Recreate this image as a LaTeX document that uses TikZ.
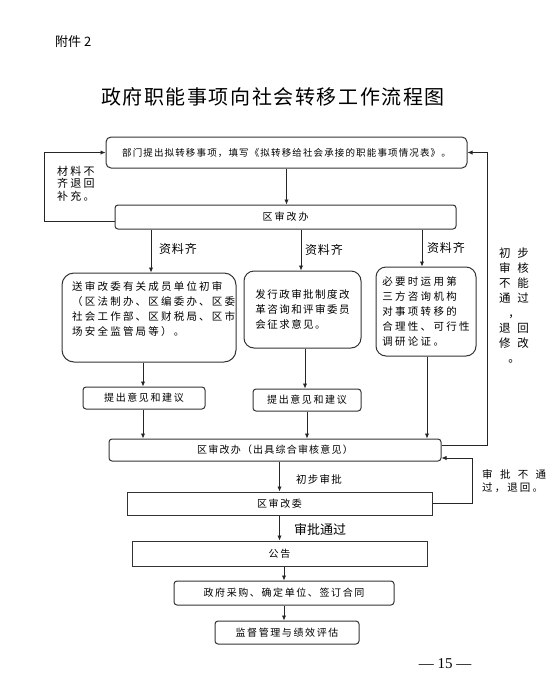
\documentclass[tikz,border=0pt]{standalone}
\usepackage{fontspec}
\setmainfont{Liberation Serif}
\newfontfamily\cjk{Noto Sans CJK SC}
\newfontfamily\cjkA[LetterSpace=16]{Noto Sans CJK SC}
\newfontfamily\cjkB[LetterSpace=12]{Noto Sans CJK SC}
\newfontfamily\cjkL[LetterSpace=21]{Noto Sans CJK SC}
\newfontfamily\cjkM[LetterSpace=14]{Noto Sans CJK SC}
\newfontfamily\cjkR[LetterSpace=22]{Noto Sans CJK SC}
\newfontfamily\cjkT[LetterSpace=8]{Noto Sans CJK SC}
\newfontfamily\cjkW[LetterSpace=70]{Noto Sans CJK SC}
\newfontfamily\cjkN[LetterSpace=20]{Noto Sans CJK SC}
\usetikzlibrary{arrows.meta}
\begin{document}
\begin{tikzpicture}[x=1pt,y=-1pt,
  line/.style={draw=black!85, line width=0.9pt},
  arr/.style={line, -{Latex[length=5pt,width=4.5pt]}},
  rbx/.style={draw=black!80, line width=1pt, rounded corners=3pt, inner sep=0pt, font=\cjkA\fontsize{10}{12}\selectfont},
  sbx/.style={draw=black!80, line width=1pt, inner sep=0pt, font=\cjkA\fontsize{10}{12}\selectfont},
  lbl/.style={inner sep=0pt}]
\useasboundingbox (0,0) rectangle (557,691);

% header and title
\node[lbl, anchor=west, font=\cjk\fontsize{13}{15}\selectfont] (att) at (55,42) {附件 2};
\node[lbl, font=\cjkT\fontsize{20}{24}\selectfont] (title) at (273,97) {政府职能事项向社会转移工作流程图};

% boxes
\node[rbx, rounded corners=5pt, minimum width=361pt, minimum height=31pt, font=\cjkB\fontsize{9.5}{12}\selectfont] (b1) at (286.5,152.5) {部门提出拟转移事项，填写《拟转移给社会承接的职能事项情况表》。};
\node[rbx, minimum width=341pt, minimum height=24pt, font=\cjkN\fontsize{10}{12}\selectfont] (b2) at (285.5,217) {区审改办};

\node[rbx, rounded corners=12pt, minimum width=174pt, minimum height=89pt] (lb) at (149,317.5) {};
\node[lbl, anchor=north west, align=left, font=\cjkL\fontsize{10.5}{15}\selectfont] (lbt) at (72,281) {送审改委有关成员单位初审\\（区法制办、区编委办、区委\\社会工作部、区财税局、区市\\场安全监管局等）。};
\node[rbx, rounded corners=10pt, minimum width=117pt, minimum height=77pt, align=left, font=\cjkM\fontsize{10.5}{15}\selectfont] (mb) at (302.5,309.5) {发行政审批制度改\\革咨询和评审委员\\会征求意见。};
\node[rbx, rounded corners=10pt, minimum width=100pt, minimum height=89pt, align=left, font=\cjkR\fontsize{10.5}{15}\selectfont] (rb) at (426,311.5) {必要时运用第\\三方咨询机构\\对事项转移的\\合理性、可行性\\调研论证。};

\node[rbx, minimum width=122pt, minimum height=22pt] (sA) at (144,398) {提出意见和建议};
\node[rbx, minimum width=108pt, minimum height=22pt] (sB) at (307,400) {提出意见和建议};

\node[rbx, minimum width=332pt, minimum height=22pt, font=\cjkB\fontsize{10}{12}\selectfont] (b3) at (275,450) {区审改办（出具综合审核意见）};
\node[sbx, minimum width=305pt, minimum height=23pt] (b4) at (279.5,503.5) {区审改委};
\node[sbx, minimum width=295pt, minimum height=25pt] (b5) at (279.5,553.5) {公告};
\node[rbx, minimum width=220pt, minimum height=24pt] (b6) at (284,593) {政府采购、确定单位、签订合同};
\node[rbx, minimum width=144pt, minimum height=23pt] (b7) at (287,632.5) {监督管理与绩效评估};

% labels
\node[lbl, anchor=north west, align=left, font=\cjkN\fontsize{11}{12.5}\selectfont] (ltx) at (57,166) {材料不\\齐退回\\补充。};
\node[lbl, font=\cjkT\fontsize{12}{14}\selectfont] (zA) at (178,249) {资料齐};
\node[lbl, font=\cjkT\fontsize{12}{14}\selectfont] (zB) at (324,250) {资料齐};
\node[lbl, font=\cjkT\fontsize{12}{14}\selectfont] (zC) at (446,248) {资料齐};
\node[lbl, align=center, font=\cjk\fontsize{11.5}{15}\selectfont] (rt) at (514,306) {初\hspace{7pt}步\\审\hspace{7pt}核\\不\hspace{7pt}能\\通\hspace{7pt}过\\，\\退\hspace{7pt}回\\修\hspace{7pt}改\\。};
\node[lbl, font=\cjkB\fontsize{10.5}{12}\selectfont] (pre) at (319,479) {初步审批};
\node[lbl, font=\cjk\fontsize{13}{15}\selectfont] (pass) at (320,529) {审批通过};
\node[lbl, anchor=west, font=\cjkW\fontsize{10.5}{12}\selectfont] (nf1) at (482,474) {审批不通};
\node[lbl, anchor=west, font=\cjkN\fontsize{10.5}{12}\selectfont] (nf2) at (482,488) {过，退回。};
\node[lbl, font=\fontsize{15}{17}\selectfont] (pg) at (445,664) {— 15 —};

% column coordinates
\coordinate (cA) at (151,0);
\coordinate (cA2) at (143,0);
\coordinate (cB) at (301,0);
\coordinate (cB2) at (305,0);
\coordinate (cC) at (422,0);
\coordinate (cC2) at (427,0);
\coordinate (cL) at (44,0);
\coordinate (cR) at (487,0);
\coordinate (cR2) at (472,0);

% connectors
\draw[arr] (b1.south) -- (b1.south |- b2.north);
\draw[arr] ([yshift=-4pt]b2.west) -- ([yshift=-4pt]b2.west -| cL) |- (b1.west);
\draw[arr] (b2.south -| cA) -- (lb.north -| cA);
\draw[arr] (b2.south -| cB) -- (mb.north -| cB);
\draw[arr] (b2.south -| cC) -- (rb.north -| cC);
\draw[arr] (lb.south -| cA2) -- (sA.north -| cA2);
\draw[arr] (sA.south -| cA2) -- (b3.north -| cA2);
\draw[arr] (mb.south -| cB2) -- (sB.north -| cB2);
\draw[arr] (sB.south) -- (sB.south |- b3.north);
\draw[arr] (rb.south -| cC2) -- (b3.north -| cC2);
\draw[arr] ([yshift=5pt]b3.east) -- ([yshift=5pt]b3.east -| cR) |- (b1.east);
\draw[arr] (b3.south -| b4.north) -- (b4.north);
\draw[arr] (b4.east) -- (b4.east -| cR2) |- ([yshift=-8pt]b3.east);
\draw[arr] (b4.south -| b5.north) -- (b5.north);
\draw[arr] (b5.south -| b6.north) -- (b6.north);
\draw[arr] (b6.south) -- (b6.south |- b7.north);
\end{tikzpicture}
\end{document}
